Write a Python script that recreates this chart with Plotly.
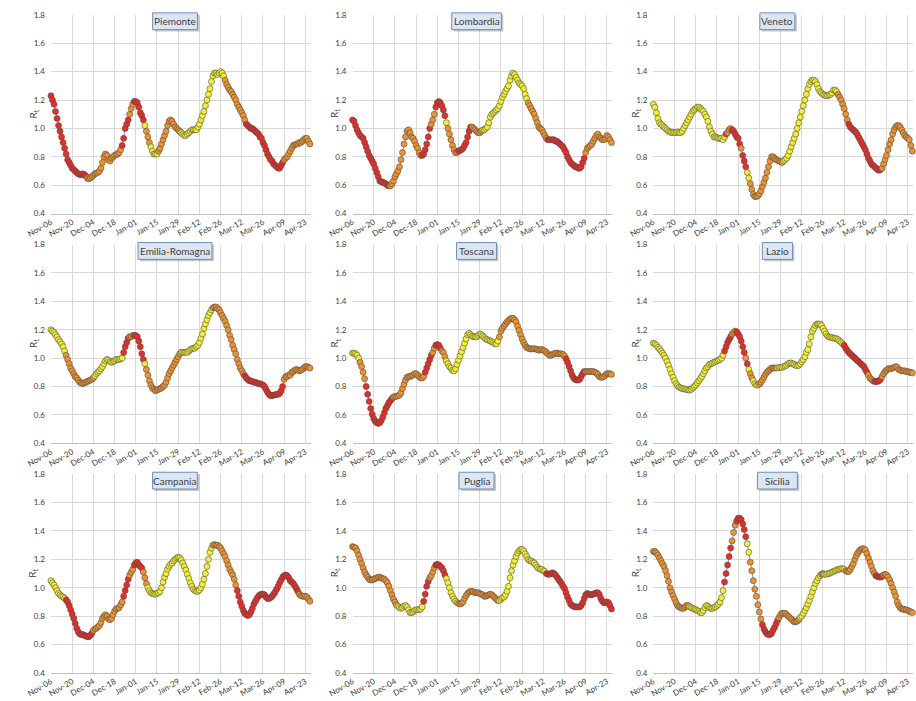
import plotly.graph_objects as go
import pandas as pd

REGIONS = ["Piemonte", "Lombardia", "Veneto", "Emilia-Romagna", "Toscana",
           "Lazio", "Campania", "Puglia", "Sicilia"]
START_DATE = "2020-11-06"
N_DAYS = 172
TICK_DATES = ["2020-11-06", "2020-11-20", "2020-12-04", "2020-12-18", "2021-01-01",
              "2021-01-15", "2021-01-29", "2021-02-12", "2021-02-26", "2021-03-12",
              "2021-03-26", "2021-04-09", "2021-04-23"]
TICK_TEXT = ["Nov-06", "Nov-20", "Dec-04", "Dec-18", "Jan-01", "Jan-15", "Jan-29",
             "Feb-12", "Feb-26", "Mar-12", "Mar-26", "Apr-09", "Apr-23"]
Y_TICKS = [0.4, 0.6, 0.8, 1.0, 1.2, 1.4, 1.6, 1.8]

PIEMONTE = [
    1.23, 1.20, 1.17, 1.12, 1.07, 1.02, 0.98, 0.94, 0.90, 0.86,
    0.82, 0.78, 0.76, 0.74, 0.72, 0.71, 0.70, 0.69, 0.68, 0.675,
    0.675, 0.68, 0.675, 0.665, 0.65, 0.645, 0.65, 0.66, 0.67, 0.68,
    0.685, 0.69, 0.70, 0.72, 0.76, 0.80, 0.82, 0.81, 0.78, 0.77,
    0.79, 0.80, 0.81, 0.815, 0.82, 0.83, 0.85, 0.88, 0.93, 1.00,
    1.03, 1.06, 1.10, 1.14, 1.17, 1.19, 1.19, 1.18, 1.15, 1.11,
    1.09, 1.06, 1.02, 0.98, 0.94, 0.90, 0.87, 0.84, 0.82, 0.82,
    0.82, 0.84, 0.86, 0.89, 0.92, 0.95, 0.98, 1.02, 1.05, 1.06,
    1.05, 1.03, 1.01, 1.00, 0.99, 0.98, 0.97, 0.96, 0.95, 0.95,
    0.96, 0.97, 0.98, 0.99, 0.99, 0.99, 0.99, 1.01, 1.03, 1.06,
    1.09, 1.12, 1.16, 1.20, 1.24, 1.28, 1.33, 1.37, 1.39, 1.39,
    1.38, 1.39, 1.40, 1.39, 1.37, 1.34, 1.31, 1.29, 1.27, 1.26,
    1.24, 1.22, 1.20, 1.17, 1.15, 1.13, 1.11, 1.09, 1.06, 1.03,
    1.02, 1.01, 1.00, 1.00, 0.99, 0.98, 0.97, 0.96, 0.94, 0.93,
    0.90, 0.88, 0.85, 0.82, 0.80, 0.78, 0.77, 0.75, 0.74, 0.73,
    0.72, 0.72, 0.74, 0.76, 0.78, 0.79, 0.80, 0.82, 0.84, 0.86,
    0.88, 0.885, 0.89, 0.89, 0.90, 0.90, 0.91, 0.92, 0.93, 0.93,
    0.91, 0.89]
LOMBARDIA = [
    1.06, 1.05, 1.02, 0.99, 0.97, 0.95, 0.94, 0.93, 0.90, 0.87,
    0.84, 0.81, 0.79, 0.77, 0.75, 0.72, 0.69, 0.66, 0.63, 0.625,
    0.62, 0.615, 0.61, 0.60, 0.595, 0.595, 0.61, 0.63, 0.66, 0.68,
    0.70, 0.73, 0.78, 0.83, 0.89, 0.94, 0.98, 0.99, 0.97, 0.94,
    0.93, 0.91, 0.88, 0.86, 0.83, 0.81, 0.81, 0.82, 0.85, 0.89,
    0.94, 1.00, 1.03, 1.06, 1.10, 1.15, 1.18, 1.19, 1.18, 1.16,
    1.13, 1.09, 1.04, 1.00, 0.96, 0.92, 0.88, 0.85, 0.83, 0.83,
    0.84, 0.845, 0.85, 0.86, 0.88, 0.90, 0.94, 0.98, 1.01, 1.01,
    1.00, 0.99, 0.98, 0.97, 0.97, 0.98, 0.99, 0.99, 1.00, 1.01,
    1.04, 1.08, 1.10, 1.11, 1.12, 1.13, 1.14, 1.16, 1.19, 1.22,
    1.24, 1.26, 1.28, 1.30, 1.34, 1.37, 1.39, 1.38, 1.36, 1.34,
    1.32, 1.31, 1.30, 1.28, 1.24, 1.21, 1.18, 1.16, 1.14, 1.12,
    1.10, 1.07, 1.04, 1.01, 1.00, 0.99, 0.97, 0.95, 0.93, 0.92,
    0.92, 0.92, 0.92, 0.92, 0.91, 0.91, 0.90, 0.89, 0.88, 0.87,
    0.85, 0.83, 0.80, 0.78, 0.76, 0.75, 0.74, 0.73, 0.73, 0.72,
    0.72, 0.73, 0.76, 0.79, 0.83, 0.86, 0.87, 0.88, 0.89, 0.91,
    0.93, 0.95, 0.96, 0.94, 0.93, 0.92, 0.92, 0.93, 0.95, 0.94,
    0.92, 0.90]
VENETO = [
    1.17, 1.15, 1.11, 1.07, 1.04, 1.03, 1.02, 1.01, 1.00, 0.99,
    0.98, 0.975, 0.97, 0.97, 0.97, 0.97, 0.975, 0.97, 0.97, 0.98,
    1.00, 1.02, 1.04, 1.06, 1.08, 1.10, 1.12, 1.13, 1.14, 1.15,
    1.15, 1.14, 1.13, 1.12, 1.10, 1.08, 1.05, 1.01, 0.98, 0.96,
    0.94, 0.94, 0.935, 0.93, 0.93, 0.93, 0.92, 0.94, 0.96, 0.97,
    0.99, 1.00, 0.99, 0.98, 0.96, 0.94, 0.93, 0.89, 0.86, 0.81,
    0.77, 0.73, 0.69, 0.65, 0.61, 0.57, 0.535, 0.52, 0.52, 0.525,
    0.54, 0.56, 0.59, 0.62, 0.65, 0.69, 0.73, 0.77, 0.80, 0.80,
    0.79, 0.78, 0.775, 0.77, 0.765, 0.76, 0.77, 0.78, 0.79, 0.81,
    0.84, 0.87, 0.90, 0.93, 0.96, 1.00, 1.04, 1.08, 1.12, 1.16,
    1.20, 1.24, 1.28, 1.31, 1.33, 1.34, 1.34, 1.33, 1.31, 1.28,
    1.26, 1.25, 1.24, 1.235, 1.23, 1.23, 1.235, 1.24, 1.25, 1.27,
    1.27, 1.26, 1.24, 1.22, 1.20, 1.17, 1.14, 1.10, 1.06, 1.03,
    1.01, 1.00, 0.99, 0.98, 0.97, 0.95, 0.93, 0.91, 0.89, 0.87,
    0.85, 0.82, 0.79, 0.77, 0.75, 0.74, 0.73, 0.72, 0.71, 0.705,
    0.71, 0.72, 0.75, 0.78, 0.81, 0.85, 0.89, 0.92, 0.96, 0.99,
    1.01, 1.02, 1.02, 1.01, 0.99, 0.97, 0.95, 0.94, 0.93, 0.92,
    0.88, 0.84]
EMILIA_ROMAGNA = [
    1.20, 1.19, 1.18, 1.165, 1.15, 1.13, 1.115, 1.10, 1.08, 1.05,
    1.02, 0.99, 0.96, 0.93, 0.91, 0.89, 0.87, 0.86, 0.845, 0.83,
    0.825, 0.82, 0.825, 0.83, 0.835, 0.84, 0.845, 0.85, 0.86, 0.875,
    0.89, 0.90, 0.91, 0.925, 0.94, 0.96, 0.98, 0.99, 0.985, 0.975,
    0.97, 0.975, 0.98, 0.99, 0.99, 0.99, 0.995, 1.00, 1.04, 1.08,
    1.11, 1.14, 1.15, 1.15, 1.16, 1.16, 1.16, 1.15, 1.12, 1.08,
    1.03, 0.99, 0.96, 0.92, 0.88, 0.84, 0.81, 0.79, 0.78, 0.77,
    0.775, 0.78, 0.785, 0.79, 0.80, 0.81, 0.83, 0.86, 0.89, 0.91,
    0.93, 0.95, 0.97, 0.99, 1.01, 1.03, 1.04, 1.04, 1.04, 1.04,
    1.04, 1.05, 1.06, 1.065, 1.07, 1.07, 1.08, 1.09, 1.11, 1.14,
    1.17, 1.21, 1.24, 1.27, 1.30, 1.32, 1.34, 1.355, 1.36, 1.36,
    1.35, 1.34, 1.32, 1.30, 1.28, 1.26, 1.23, 1.20, 1.16, 1.13,
    1.09, 1.06, 1.03, 0.99, 0.96, 0.93, 0.91, 0.89, 0.875, 0.86,
    0.85, 0.84, 0.84, 0.835, 0.83, 0.83, 0.825, 0.82, 0.82, 0.815,
    0.81, 0.80, 0.78, 0.76, 0.745, 0.735, 0.735, 0.74, 0.74, 0.745,
    0.745, 0.75, 0.77, 0.80, 0.85, 0.87, 0.87, 0.88, 0.88, 0.90,
    0.905, 0.915, 0.92, 0.915, 0.91, 0.915, 0.92, 0.93, 0.94, 0.94,
    0.935, 0.93]
TOSCANA = [
    1.035, 1.035, 1.03, 1.02, 1.00, 0.97, 0.94, 0.90, 0.855, 0.80,
    0.745, 0.695, 0.645, 0.605, 0.575, 0.555, 0.545, 0.54, 0.545, 0.56,
    0.585, 0.615, 0.645, 0.665, 0.685, 0.70, 0.715, 0.725, 0.73, 0.73,
    0.735, 0.74, 0.755, 0.785, 0.815, 0.845, 0.865, 0.87, 0.87, 0.875,
    0.88, 0.89, 0.89, 0.88, 0.87, 0.86, 0.86, 0.87, 0.90, 0.93,
    0.96, 0.99, 1.02, 1.04, 1.07, 1.09, 1.095, 1.09, 1.07, 1.05,
    1.04, 1.01, 0.98, 0.96, 0.94, 0.93, 0.915, 0.91, 0.925, 0.955,
    0.985, 1.015, 1.045, 1.075, 1.105, 1.135, 1.165, 1.175, 1.165, 1.155,
    1.15, 1.15, 1.15, 1.16, 1.17, 1.165, 1.155, 1.145, 1.135, 1.13,
    1.125, 1.12, 1.115, 1.11, 1.10, 1.10, 1.12, 1.15, 1.19, 1.21,
    1.225, 1.24, 1.255, 1.265, 1.275, 1.28, 1.28, 1.27, 1.255, 1.225,
    1.195, 1.165, 1.135, 1.11, 1.09, 1.075, 1.07, 1.065, 1.065, 1.065,
    1.065, 1.065, 1.06, 1.055, 1.06, 1.06, 1.055, 1.05, 1.04, 1.03,
    1.02, 1.02, 1.025, 1.03, 1.035, 1.035, 1.03, 1.03, 1.03, 1.025,
    1.015, 0.995, 0.97, 0.94, 0.91, 0.88, 0.86, 0.85, 0.845, 0.845,
    0.85, 0.87, 0.89, 0.905, 0.905, 0.905, 0.905, 0.905, 0.905, 0.905,
    0.90, 0.895, 0.885, 0.87, 0.865, 0.865, 0.87, 0.88, 0.89, 0.89,
    0.89, 0.885]
LAZIO = [
    1.105, 1.10, 1.09, 1.075, 1.065, 1.05, 1.035, 1.02, 1.00, 0.975,
    0.95, 0.92, 0.89, 0.865, 0.84, 0.82, 0.805, 0.795, 0.79, 0.785,
    0.785, 0.78, 0.78, 0.775, 0.775, 0.78, 0.79, 0.80, 0.81, 0.825,
    0.84, 0.855, 0.87, 0.89, 0.91, 0.93, 0.94, 0.955, 0.96, 0.965,
    0.97, 0.975, 0.98, 0.985, 0.99, 1.00, 1.02, 1.05, 1.08, 1.11,
    1.13, 1.15, 1.17, 1.18, 1.19, 1.185, 1.17, 1.15, 1.12, 1.08,
    1.04, 1.00, 0.96, 0.92, 0.89, 0.86, 0.84, 0.82, 0.81, 0.81,
    0.815, 0.83, 0.845, 0.865, 0.885, 0.90, 0.91, 0.92, 0.93, 0.93,
    0.93, 0.93, 0.93, 0.935, 0.935, 0.935, 0.94, 0.945, 0.95, 0.96,
    0.965, 0.965, 0.96, 0.955, 0.95, 0.945, 0.95, 0.96, 0.975, 0.99,
    1.01, 1.04, 1.06, 1.10, 1.15, 1.19, 1.21, 1.23, 1.24, 1.24,
    1.24, 1.23, 1.21, 1.19, 1.17, 1.155, 1.15, 1.145, 1.145, 1.14,
    1.14, 1.135, 1.13, 1.12, 1.11, 1.10, 1.09, 1.07, 1.055, 1.04,
    1.03, 1.02, 1.01, 1.00, 0.99, 0.98, 0.97, 0.96, 0.95, 0.94,
    0.92, 0.90, 0.88, 0.86, 0.85, 0.84, 0.835, 0.835, 0.835, 0.84,
    0.85, 0.87, 0.89, 0.905, 0.915, 0.925, 0.925, 0.925, 0.93, 0.935,
    0.94, 0.935, 0.92, 0.915, 0.91, 0.91, 0.91, 0.905, 0.905, 0.90,
    0.90, 0.895]
CAMPANIA = [
    1.05, 1.035, 1.02, 1.00, 0.98, 0.96, 0.95, 0.94, 0.935, 0.925,
    0.915, 0.90, 0.875, 0.845, 0.815, 0.785, 0.75, 0.715, 0.69, 0.675,
    0.67, 0.67, 0.665, 0.66, 0.655, 0.655, 0.665, 0.68, 0.70, 0.71,
    0.715, 0.725, 0.735, 0.755, 0.785, 0.80, 0.81, 0.80, 0.78, 0.775,
    0.785, 0.81, 0.835, 0.85, 0.855, 0.86, 0.88, 0.90, 0.94, 0.98,
    1.02, 1.06, 1.09, 1.11, 1.13, 1.16, 1.175, 1.18, 1.16, 1.15,
    1.14, 1.11, 1.07, 1.03, 1.00, 0.98, 0.965, 0.96, 0.955, 0.955,
    0.96, 0.965, 0.975, 1.00, 1.04, 1.075, 1.10, 1.13, 1.15, 1.165,
    1.175, 1.19, 1.20, 1.21, 1.215, 1.21, 1.195, 1.175, 1.15, 1.125,
    1.095, 1.065, 1.035, 1.01, 0.99, 0.98, 0.975, 0.975, 0.985, 1.00,
    1.025, 1.06, 1.10, 1.15, 1.20, 1.25, 1.28, 1.30, 1.305, 1.30,
    1.30, 1.29, 1.28, 1.26, 1.24, 1.22, 1.19, 1.16, 1.13, 1.11,
    1.09, 1.06, 1.02, 0.98, 0.94, 0.90, 0.87, 0.84, 0.82, 0.81,
    0.805, 0.81, 0.83, 0.855, 0.885, 0.905, 0.925, 0.94, 0.95, 0.955,
    0.955, 0.95, 0.935, 0.925, 0.925, 0.93, 0.94, 0.955, 0.97, 0.99,
    1.01, 1.035, 1.055, 1.075, 1.085, 1.09, 1.085, 1.07, 1.05, 1.04,
    1.03, 1.015, 0.995, 0.975, 0.955, 0.945, 0.94, 0.94, 0.94, 0.935,
    0.92, 0.905]
PUGLIA = [
    1.29, 1.285, 1.28, 1.26, 1.23, 1.20, 1.17, 1.14, 1.11, 1.09,
    1.075, 1.06, 1.055, 1.055, 1.06, 1.065, 1.07, 1.075, 1.075, 1.07,
    1.065, 1.06, 1.05, 1.035, 1.01, 0.98, 0.95, 0.92, 0.90, 0.88,
    0.87, 0.86, 0.855, 0.86, 0.87, 0.875, 0.865, 0.845, 0.825, 0.825,
    0.83, 0.84, 0.845, 0.845, 0.845, 0.85, 0.865, 0.905, 0.955, 1.01,
    1.045, 1.07, 1.085, 1.11, 1.14, 1.16, 1.165, 1.16, 1.15, 1.14,
    1.12, 1.09, 1.065, 1.035, 1.00, 0.965, 0.94, 0.92, 0.905, 0.895,
    0.89, 0.885, 0.89, 0.90, 0.925, 0.945, 0.96, 0.97, 0.975, 0.975,
    0.97, 0.965, 0.965, 0.965, 0.96, 0.955, 0.95, 0.94, 0.94, 0.945,
    0.95, 0.955, 0.95, 0.94, 0.93, 0.92, 0.91, 0.91, 0.92, 0.93,
    0.935, 0.95, 0.975, 1.01, 1.07, 1.12, 1.16, 1.19, 1.22, 1.245,
    1.26, 1.27, 1.27, 1.26, 1.24, 1.22, 1.20, 1.19, 1.19, 1.18,
    1.175, 1.16, 1.145, 1.135, 1.13, 1.13, 1.12, 1.115, 1.10, 1.095,
    1.095, 1.10, 1.105, 1.10, 1.09, 1.075, 1.06, 1.045, 1.03, 1.01,
    0.995, 0.965, 0.935, 0.91, 0.885, 0.875, 0.87, 0.865, 0.865, 0.865,
    0.865, 0.875, 0.895, 0.925, 0.95, 0.96, 0.955, 0.95, 0.95, 0.955,
    0.96, 0.965, 0.965, 0.95, 0.925, 0.905, 0.895, 0.895, 0.90, 0.895,
    0.875, 0.85]
SICILIA = [
    1.256, 1.255, 1.245, 1.23, 1.21, 1.19, 1.17, 1.15, 1.12, 1.085,
    1.045, 1.00, 0.97, 0.945, 0.92, 0.895, 0.875, 0.865, 0.86, 0.855,
    0.855, 0.865, 0.875, 0.875, 0.865, 0.86, 0.855, 0.85, 0.845, 0.84,
    0.835, 0.825, 0.825, 0.84, 0.86, 0.875, 0.87, 0.86, 0.855, 0.855,
    0.86, 0.865, 0.875, 0.885, 0.90, 0.93, 0.98, 1.04, 1.10, 1.16,
    1.22, 1.28, 1.33, 1.39, 1.44, 1.47, 1.49, 1.49, 1.48, 1.45,
    1.41, 1.36, 1.31, 1.25, 1.18, 1.12, 1.05, 0.99, 0.94, 0.88,
    0.83, 0.78, 0.74, 0.71, 0.69, 0.675, 0.67, 0.67, 0.68, 0.70,
    0.72, 0.745, 0.77, 0.79, 0.81, 0.82, 0.82, 0.82, 0.81, 0.80,
    0.79, 0.78, 0.77, 0.76, 0.76, 0.765, 0.775, 0.79, 0.80, 0.82,
    0.84, 0.86, 0.885, 0.91, 0.94, 0.97, 1.00, 1.03, 1.05, 1.07,
    1.085, 1.095, 1.10, 1.095, 1.095, 1.10, 1.10, 1.105, 1.11, 1.115,
    1.12, 1.125, 1.13, 1.13, 1.135, 1.135, 1.13, 1.12, 1.115, 1.115,
    1.13, 1.15, 1.17, 1.20, 1.225, 1.245, 1.26, 1.27, 1.275, 1.275,
    1.265, 1.24, 1.21, 1.18, 1.15, 1.12, 1.10, 1.085, 1.08, 1.075,
    1.075, 1.08, 1.09, 1.095, 1.09, 1.075, 1.055, 1.03, 1.00, 0.97,
    0.94, 0.90, 0.875, 0.86, 0.85, 0.85, 0.845, 0.845, 0.84, 0.835,
    0.83, 0.825]

# colour class of each day, run-length encoded: r = red, o = orange, y = yellow
PIEMONTE_CLASS = [("r", 24), ("o", 23), ("r", 5), ("o", 3), ("r", 7), ("y", 1), ("o", 3),
                  ("y", 5), ("o", 15), ("y", 29), ("o", 14), ("r", 25), ("o", 18)]
LOMBARDIA_CLASS = [("r", 25), ("o", 21), ("r", 6), ("o", 3), ("r", 7), ("y", 1), ("o", 7),
                   ("r", 9), ("o", 7), ("y", 30), ("o", 13), ("r", 25), ("o", 18)]
VENETO_CLASS = [("y", 48), ("r", 1), ("o", 3), ("r", 6), ("o", 1), ("r", 3), ("y", 2),
                ("o", 22), ("y", 36), ("o", 7), ("r", 22), ("o", 21)]
EMILIA_ROMAGNA_CLASS = [("y", 10), ("o", 19), ("y", 19), ("r", 4), ("o", 3), ("r", 7), ("y", 1),
                        ("o", 23), ("y", 21), ("o", 21), ("r", 26), ("o", 18)]
TOSCANA_CLASS = [("y", 5), ("o", 4), ("r", 18), ("o", 21), ("r", 5), ("o", 2), ("r", 4),
                 ("o", 3), ("y", 35), ("o", 44), ("r", 13), ("o", 18)]
LAZIO_CLASS = [("y", 47), ("r", 5), ("o", 3), ("r", 6), ("o", 1), ("r", 1), ("y", 1), ("o", 2),
               ("y", 4), ("o", 12), ("y", 44), ("r", 16), ("o", 4), ("r", 5), ("o", 21)]
CAMPANIA_CLASS = [("y", 10), ("r", 18), ("o", 20), ("r", 4), ("o", 3), ("r", 6), ("o", 3),
                  ("y", 43), ("o", 16), ("r", 41), ("o", 8)]
PUGLIA_CLASS = [("o", 30), ("y", 17), ("r", 4), ("o", 4), ("r", 7), ("y", 8), ("o", 27),
                ("y", 31), ("r", 44)]
SICILIA_CLASS = [("o", 24), ("y", 23), ("r", 5), ("o", 3), ("r", 7), ("y", 2), ("o", 8),
                 ("r", 11), ("o", 14), ("y", 14), ("o", 2), ("y", 14), ("o", 20), ("r", 5),
                 ("o", 20)]

SERIES = [PIEMONTE, LOMBARDIA, VENETO, EMILIA_ROMAGNA, TOSCANA, LAZIO, CAMPANIA, PUGLIA, SICILIA]
CLASSES = [PIEMONTE_CLASS, LOMBARDIA_CLASS, VENETO_CLASS, EMILIA_ROMAGNA_CLASS, TOSCANA_CLASS,
           LAZIO_CLASS, CAMPANIA_CLASS, PUGLIA_CLASS, SICILIA_CLASS]

COLOR_MAP = {"r": "#ec2b24", "o": "#f0912a", "y": "#f3ef2c"}

dates = pd.date_range(START_DATE, periods=N_DAYS)

W, H = 916, 701
COL_LEFT = [26.7, 336.7, 646.0]
ROW_TOP = [10.0, 243.0, 476.0]
PW, PH = 267.0, 201.6

fig = go.Figure()
layout = {}
annotations = []
shapes = []
FONT = "Lato, 'Liberation Sans', Arial, sans-serif"

for i, (name, vals, cls) in enumerate(zip(REGIONS, SERIES, CLASSES)):
    colors = []
    for c, n in cls:
        colors += [COLOR_MAP[c]] * n
    if len(vals) != N_DAYS or len(colors) != N_DAYS:
        raise ValueError(f"{name}: {len(vals)} values, {len(colors)} colours")
    r, c = divmod(i, 3)
    sfx = "" if i == 0 else str(i + 1)
    left, top = COL_LEFT[c], ROW_TOP[r]
    xd = [left / W, (left + PW) / W]
    yd = [1 - (top + PH) / H, 1 - top / H]
    fig.add_trace(go.Scatter(
        x=dates, y=vals, mode="lines+markers",
        xaxis="x" + sfx, yaxis="y" + sfx,
        line=dict(color="#5b9bd5", width=1),
        marker=dict(size=6, color=colors, line=dict(color="#4d4d4d", width=0.6)),
        cliponaxis=False, showlegend=False, hoverinfo="x+y"))
    layout["xaxis" + sfx] = dict(
        domain=xd, anchor="y" + sfx, type="date",
        range=["2020-11-06", "2021-04-26 12:00"],
        tickmode="array", tickvals=TICK_DATES, ticktext=TICK_TEXT,
        tickangle=-30, tickfont=dict(size=8, color="#404040", family=FONT),
        showgrid=True, gridcolor="#d9d9d9", gridwidth=1,
        showline=True, linecolor="#bfbfbf", linewidth=1,
        zeroline=False, ticks="", fixedrange=True)
    layout["yaxis" + sfx] = dict(
        domain=yd, anchor="x" + sfx, range=[0.4, 1.8],
        tickmode="array", tickvals=Y_TICKS, tickformat=".1f",
        tickfont=dict(size=8, color="#404040", family=FONT),
        showgrid=True, gridcolor="#d9d9d9", gridwidth=1,
        showline=False, zeroline=False, ticks="", ticklabelstandoff=5,
        fixedrange=True)
    # y-axis title R_t
    annotations.append(dict(
        x=(left - 18.5) / W, y=1 - (top + 100) / H, xref="paper", yref="paper",
        text="R<sub>t</sub>", textangle=-90, showarrow=False,
        font=dict(size=10, color="#404040", family=FONT),
        xanchor="center", yanchor="middle"))
    # title box: shadow + box drawn as shapes, then text
    cxp = left + PW / 2 - 6
    cyp = top + 6.5
    bw = 5.0 * len(name) + 6
    bh = 17
    shapes.append(dict(
        type="rect", xref="paper", yref="paper", layer="above",
        x0=(cxp - bw / 2 + 2) / W, x1=(cxp + bw / 2 + 2) / W,
        y0=1 - (cyp + bh / 2 + 2) / H, y1=1 - (cyp - bh / 2 + 2) / H,
        fillcolor="rgba(0,0,0,0.22)", line=dict(width=0)))
    shapes.append(dict(
        type="rect", xref="paper", yref="paper", layer="above",
        x0=(cxp - bw / 2) / W, x1=(cxp + bw / 2) / W,
        y0=1 - (cyp + bh / 2) / H, y1=1 - (cyp - bh / 2) / H,
        fillcolor="#dce6f2", line=dict(color="#6d8db5", width=1)))
    annotations.append(dict(
        x=cxp / W, y=1 - cyp / H, xref="paper", yref="paper", text=name, showarrow=False,
        font=dict(size=10, color="#404040", family=FONT),
        xanchor="center", yanchor="middle"))

fig.update_layout(
    width=W, height=H, margin=dict(l=0, r=0, t=0, b=0),
    paper_bgcolor="white", plot_bgcolor="white",
    font=dict(family=FONT, color="#404040"),
    annotations=annotations, shapes=shapes, **layout)

fig.write_html("out.html")
